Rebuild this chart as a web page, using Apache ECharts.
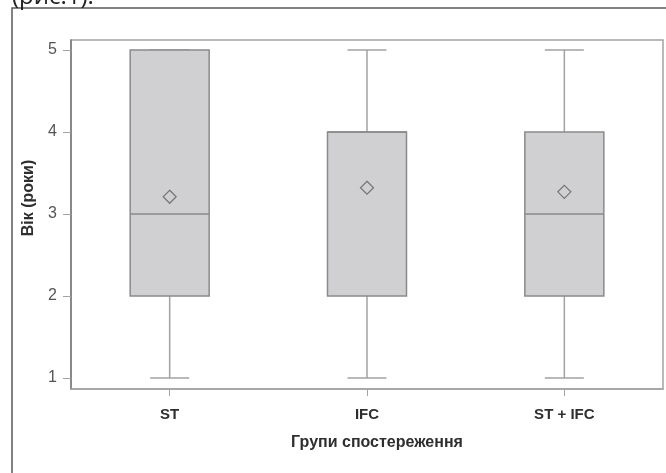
<!DOCTYPE html>
<html>
<head>
<meta charset="utf-8">
<script src="https://cdn.jsdelivr.net/npm/echarts@6/dist/echarts.min.js"></script>
<style>
  html, body { margin: 0; padding: 0; background: #fff; }
  #chart { width: 666px; height: 473px; }
</style>
</head>
<body>
<div id="chart"></div>
<script>
// Groups and their five-number summaries: [min, Q1, median, Q3, max]
const groups = ['ST', 'IFC', 'ST + IFC'];
const boxStats = [
  [1, 2, 3, 5, 5],
  [1, 2, 4, 4, 5],
  [1, 2, 3, 4, 5]
];
// Group means (diamond markers)
const groupMeans = [3.21, 3.32, 3.27];
// Age ticks
const ageTicks = [1, 2, 3, 4, 5];

const yTitle = 'Вік (роки)';
const xTitle = 'Групи спостереження';
const captionTail = '(рис.1).';

const BOX_W = 79;       // box width in px
const CAP_W = 39;       // whisker cap width in px
const BOX_FILL = '#d0d0d3';
const BOX_EDGE = '#8a8a8a';
const WHISKER = '#a2a2a2';

// Box-and-whisker glyph built from the axis scales
function renderBox(params, api) {
  const i = api.value(0);
  const lo = api.coord([i, api.value(1)]);
  const q1 = api.coord([i, api.value(2)]);
  const md = api.coord([i, api.value(3)]);
  const q3 = api.coord([i, api.value(4)]);
  const hi = api.coord([i, api.value(5)]);
  const cx = lo[0];
  const hb = BOX_W / 2, hc = CAP_W / 2;
  const wStyle = { stroke: WHISKER, lineWidth: 1.5, fill: null };
  return {
    type: 'group',
    children: [
      { type: 'line', shape: { x1: cx, y1: q3[1], x2: cx, y2: hi[1] }, style: wStyle },
      { type: 'line', shape: { x1: cx, y1: q1[1], x2: cx, y2: lo[1] }, style: wStyle },
      { type: 'line', shape: { x1: cx - hc, y1: hi[1], x2: cx + hc, y2: hi[1] }, style: wStyle },
      { type: 'line', shape: { x1: cx - hc, y1: lo[1], x2: cx + hc, y2: lo[1] }, style: wStyle },
      {
        type: 'rect',
        shape: { x: cx - hb, y: q3[1], width: BOX_W, height: q1[1] - q3[1] },
        style: { fill: BOX_FILL, stroke: BOX_EDGE, lineWidth: 1.5 }
      },
      { type: 'line', shape: { x1: cx - hb, y1: md[1], x2: cx + hb, y2: md[1] }, style: { stroke: BOX_EDGE, lineWidth: 1.5 } }
    ]
  };
}

const chart = echarts.init(document.getElementById('chart'), null, { renderer: 'canvas' });

chart.setOption({
  animation: false,
  backgroundColor: '#ffffff',
  grid: {
    left: 71, right: 3, top: 40, bottom: 84,
    show: true,
    borderColor: '#a3a3a3',
    borderWidth: 1.5,
    backgroundColor: 'transparent'
  },
  xAxis: {
    type: 'category',
    data: groups,
    boundaryGap: true,
    axisLine: { show: true, lineStyle: { color: '#a3a3a3', width: 1.5 } },
    axisTick: { show: true, alignWithLabel: true, length: 7, lineStyle: { color: '#a3a3a3', width: 1 } },
    axisLabel: {
      margin: 18,
      color: '#2e2e2e',
      fontFamily: 'Liberation Sans, Arial, sans-serif',
      fontWeight: 'bold',
      fontSize: 15
    },
    splitLine: { show: false }
  },
  yAxis: {
    type: 'value',
    min: 0.866,
    max: 5.122,
    axisLine: { show: true, lineStyle: { color: '#7a7a7a', width: 1.5 } },
    axisTick: { show: true, length: 8, customValues: ageTicks, lineStyle: { color: '#a3a3a3', width: 1 } },
    axisLabel: {
      customValues: ageTicks,
      margin: 14,
      color: '#555555',
      fontFamily: 'Liberation Sans, Arial, sans-serif',
      fontSize: 16
    },
    splitLine: { show: false }
  },
  graphic: [
    {
      type: 'rect',
      silent: true,
      shape: { x: 12, y: 8, width: 700, height: 500 },
      style: { fill: 'none', stroke: '#5a5a5a', lineWidth: 1.5 }
    },
    {
      type: 'text',
      silent: true,
      x: 12, y: 9,
      style: {
        text: captionTail,
        fill: '#222222',
        font: '24px "Open Sans", sans-serif',
        verticalAlign: 'bottom'
      }
    },
    {
      type: 'text',
      silent: true,
      x: 29, y: 198,
      rotation: Math.PI / 2,
      style: {
        text: yTitle,
        fill: '#2e2e2e',
        font: 'bold 16px "Liberation Sans", Arial, sans-serif',
        align: 'center',
        verticalAlign: 'middle'
      }
    },
    {
      type: 'text',
      silent: true,
      x: 377, y: 443,
      style: {
        text: xTitle,
        fill: '#2e2e2e',
        font: 'bold 16px "Liberation Sans", Arial, sans-serif',
        align: 'center',
        verticalAlign: 'middle'
      }
    }
  ],
  series: [
    {
      type: 'custom',
      renderItem: renderBox,
      data: boxStats.map((s, i) => [i].concat(s)),
      encode: { x: 0, y: [1, 2, 3, 4, 5] },
      silent: true
    },
    {
      type: 'scatter',
      data: groupMeans,
      symbol: 'diamond',
      symbolSize: [13, 13],
      itemStyle: {
        color: 'rgba(0,0,0,0)',
        borderColor: '#5e5e5e',
        borderWidth: 1.2
      },
      silent: true,
      z: 5
    }
  ]
});
</script>
</body>
</html>
